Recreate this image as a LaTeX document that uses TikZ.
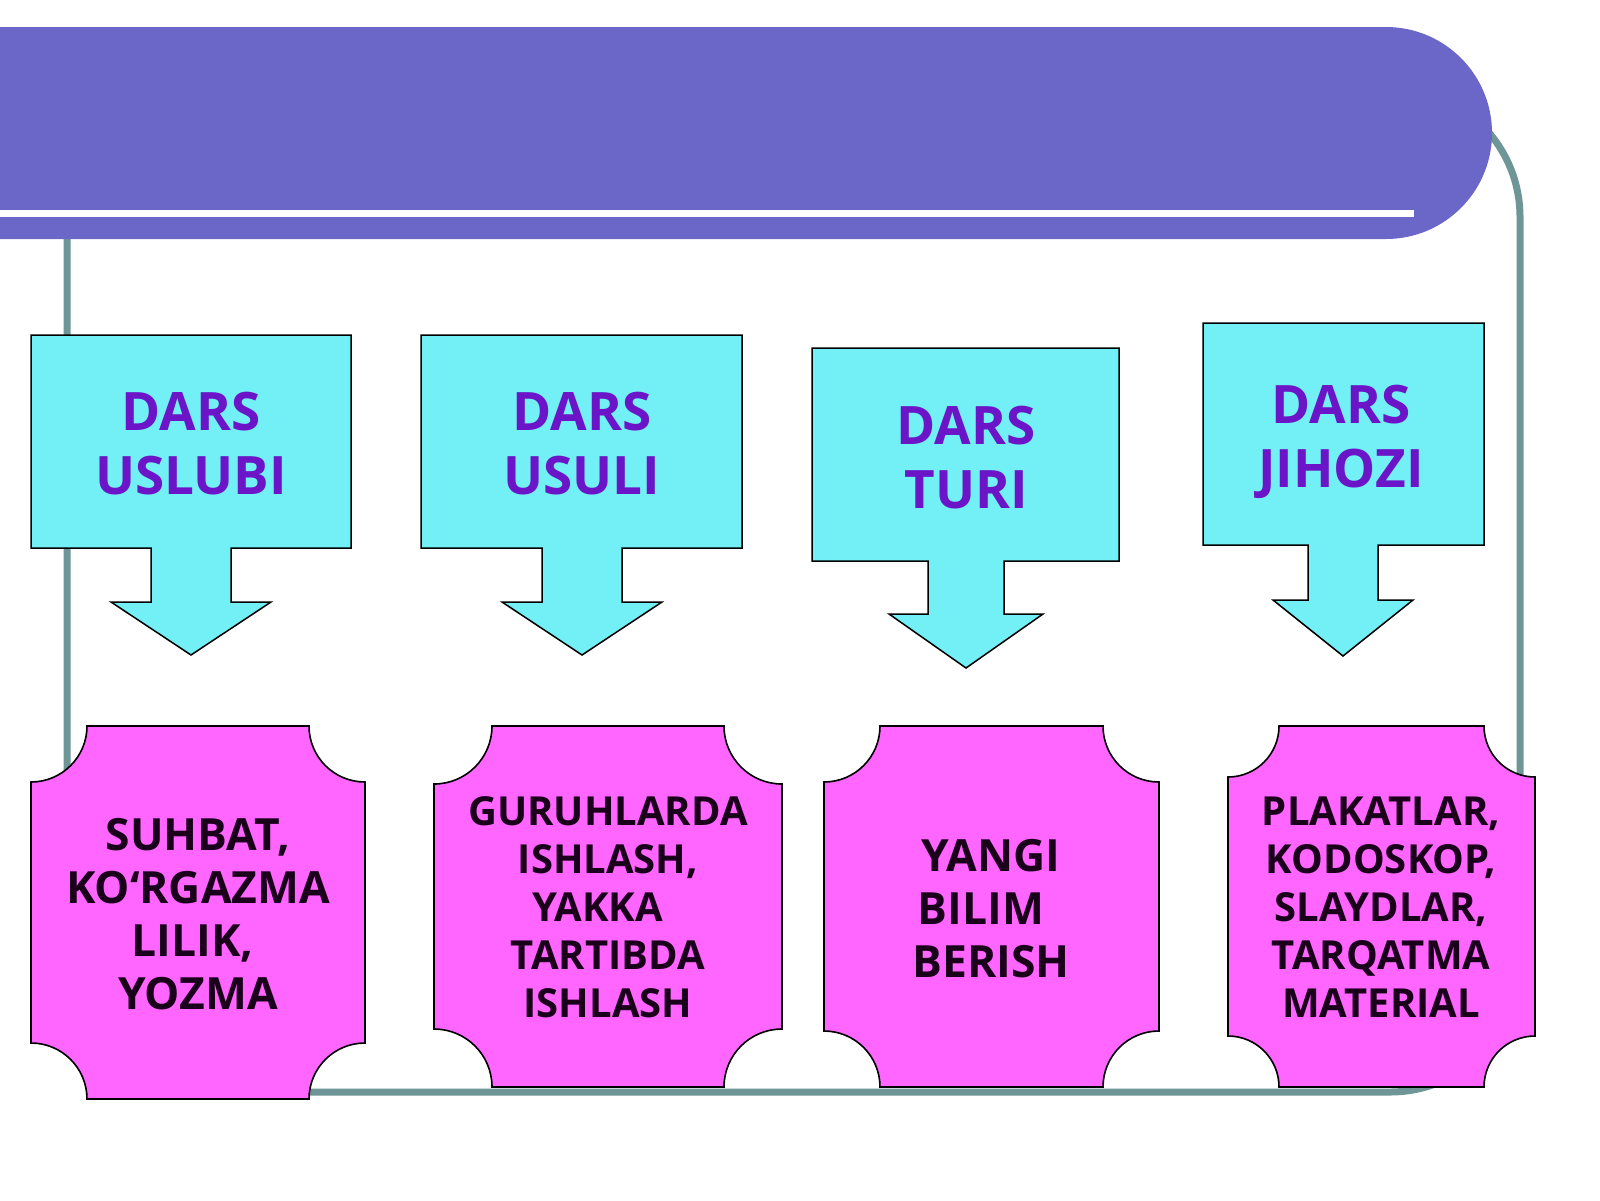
\documentclass[tikz,border=0pt]{standalone}
\usepackage{fontspec}
\setmainfont{Open Sans}
\definecolor{bannerc}{HTML}{6A67C9}
\definecolor{framec}{HTML}{6F9696}
\definecolor{cyanc}{HTML}{72F0F5}
\definecolor{pinkc}{HTML}{FF66FF}
\definecolor{headc}{HTML}{6B14C8}
\definecolor{bodyc}{HTML}{1A001A}
\tikzset{
  frameline/.style={draw=framec, line width=3.5pt, rounded corners=65pt},
  callout/.style={fill=cyanc, draw=black, line width=0.75pt, line join=miter},
  plaque/.style={fill=pinkc, draw=black, line width=0.8pt},
  headtext/.style={text=headc, align=center, inner sep=0pt, text depth=0pt,
    font=\fontsize{26.5}{32}\selectfont\bfseries},
  bigbody/.style={text=bodyc, align=center, inner sep=0pt, text depth=0pt,
    font=\fontsize{22.2}{26.5}\selectfont\bfseries},
  smallbody/.style={text=bodyc, align=center, inner sep=0pt, text depth=0pt,
    font=\fontsize{20}{24}\selectfont\bfseries},
}
% L T R B tipx stemhalf headY headhalf tipY
\newcommand\drawcallout[9]{%
  \draw[callout] (#1,#2) -- (#3,#2) -- (#3,#4) -- ({#5+#6},#4) -- ({#5+#6},#7)
    -- ({#5+#8},#7) -- (#5,#9) -- ({#5-#8},#7) -- ({#5-#6},#7) -- ({#5-#6},#4)
    -- (#1,#4) -- cycle;}
% L T R B r
\newcommand\drawplaque[5]{%
  \draw[plaque] ({#1+#5},#2) -- ({#3-#5},#2) arc[start angle=180,end angle=90,radius=#5]
    -- (#3,{#4-#5}) arc[start angle=270,end angle=180,radius=#5]
    -- ({#1+#5},#4) arc[start angle=360,end angle=270,radius=#5]
    -- (#1,{#2+#5}) arc[start angle=90,end angle=0,radius=#5] -- cycle;}
\newcommand\trail[1]{\rule{#1}{0pt}}
\begin{document}
\begin{tikzpicture}[x=0.5pt,y=-0.5pt]
\useasboundingbox (0,0) rectangle (1600,1200);
\fill[white] (0,0) rectangle (1600,1200);
% frame
\draw[frameline] (67,87) rectangle (1520,1092);
% banner
\fill[bannerc] (-5,27) -- (1386,27) arc[start angle=-90,end angle=90,radius=106] -- (-5,239) -- cycle;
\fill[white] (-5,210) rectangle (1414,217);
% callouts
\drawcallout{31}{335}{351}{548}{191}{40}{602}{80}{655}
\drawcallout{421}{335}{742}{548}{582}{40}{602}{80}{655}
\drawcallout{812}{348}{1119}{561}{966}{38}{614}{77}{668}
\drawcallout{1203}{323}{1484}{545}{1343}{35}{600}{70}{656}
\node[headtext] (h1) at (191,443.5) {DARS\\USLUBI};
\node[headtext] (h2) at (582,443.5) {DARS\\USULI};
\node[headtext] (h3) at (966,457) {DARS\\TURI};
\node[headtext] (h4) at (1341,436) {DARS\\JIHOZI};
% plaques
\drawplaque{31}{726}{365}{1099}{56}
\drawplaque{434}{726}{782}{1087}{58}
\drawplaque{824}{726}{1159}{1087}{56}
\drawplaque{1228}{726}{1535}{1087}{51}
\node[bigbody] (b1) at (198,914) {SUHBAT,\\KO‘RGAZMA\\LILIK,\trail{0.25em}\\YOZMA};
\node[smallbody] (b2) at (608,907) {GURUHLARDA\\ISHLASH,\\YAKKA\trail{0.52em}\\TARTIBDA\\ISHLASH};
\node[bigbody] (b3) at (991,908) {YANGI\\BILIM\trail{0.45em}\\BERISH};
\node[smallbody] (b4) at (1381,907) {PLAKATLAR,\\KODOSKOP,\\SLAYDLAR,\\TARQATMA\\MATERIAL};
\end{tikzpicture}
\end{document}
